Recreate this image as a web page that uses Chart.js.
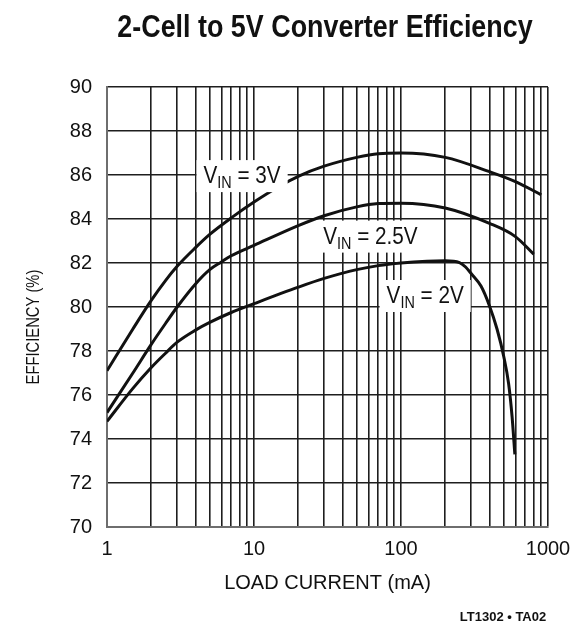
<!DOCTYPE html>
<html>
<head>
<meta charset="utf-8">
<script src="https://cdn.jsdelivr.net/npm/chart.js@4.4.1/dist/chart.umd.min.js"></script>
<style>
  html, body { margin: 0; padding: 0; background: #fff; }
  #wrap { width: 572px; height: 626px; position: relative; }
</style>
</head>
<body>
<div id="wrap"><canvas id="chart"></canvas></div>
<script>
// Efficiency curves (load current in mA, efficiency in %)
const load3V = [1, 1.5, 2, 2.5, 3, 4, 5, 7, 10, 15, 20, 30, 50, 70, 100, 200, 400, 600, 900]
const eff3V = [77.1, 79.0, 80.3, 81.2, 81.85, 82.7, 83.3, 84.05, 84.77, 85.5, 85.94, 86.4, 86.8, 86.97, 87.0, 86.8, 86.15, 85.7, 85.1]

const load2V5 = [1, 1.5, 2, 2.5, 3, 4, 5, 6, 7, 10, 20, 30, 50, 70, 100, 200, 400, 600, 800]
const eff2V5 = [75.2, 77.0, 78.3, 79.25, 80.0, 81.05, 81.7, 82.05, 82.33, 82.8, 83.7, 84.15, 84.55, 84.7, 84.72, 84.5, 83.8, 83.2, 82.4]

const load2V = [1, 1.5, 2, 2.5, 3, 4, 5, 7, 10, 20, 30, 50, 70, 100, 150, 200, 250, 275, 300, 350, 400, 450, 500, 540, 570, 595]
const eff2V = [74.8, 76.3, 77.25, 77.9, 78.4, 78.95, 79.3, 79.75, 80.15, 80.9, 81.3, 81.7, 81.88, 82.0, 82.08, 82.1, 82.02, 81.82, 81.52, 80.95, 80.05, 79.0, 77.75, 76.5, 75.0, 73.3]

const seriesNames = ['3V', '2.5V', '2V']
const xDecades = [1, 10, 100, 1000]
const xMinorSteps = [1, 2, 3, 4, 5, 6, 7, 8, 9]
const yTicks = [70, 72, 74, 76, 78, 80, 82, 84, 86, 88, 90]

const SANS = "'Liberation Sans', Arial, sans-serif"
const INK = '#111'

// where the "VIN = ..." labels sit, in data units (box centre)
const labelSpots = [
  { load: 8.3, eff: 85.95 },
  { load: 62, eff: 83.2 },
  { load: 146, eff: 80.5 }
]

const toPoints = (xs, ys) => xs.map((x, i) => ({ x: x, y: ys[i] }))

const lineStyle = {
  borderColor: INK,
  borderWidth: 3,
  pointRadius: 0,
  fill: false,
  cubicInterpolationMode: 'monotone'
}

// the original uses a condensed face, so squeeze the text horizontally
function narrowText(ctx, text, x, y, font, squeeze) {
  ctx.save()
  ctx.font = font
  ctx.translate(x, y)
  ctx.scale(squeeze, 1)
  ctx.textAlign = 'left'
  ctx.fillText(text, 0, 0)
  ctx.restore()
}

function narrowWidth(ctx, text, font, squeeze) {
  ctx.save()
  ctx.font = font
  const w = ctx.measureText(text).width * squeeze
  ctx.restore()
  return w
}

const decorations = {
  id: 'decorations',
  afterDatasetsDraw(chart) {
    const ctx = chart.ctx
    const xs = chart.scales.x
    const ys = chart.scales.y
    const big = `23px ${SANS}`
    const sub = `16px ${SANS}`
    const sq = 0.9
    ctx.save()
    ctx.textBaseline = 'alphabetic'

    labelSpots.forEach((spot, i) => {
      const cx = xs.getPixelForValue(spot.load)
      const cy = ys.getPixelForValue(spot.eff)
      const rest = ' = ' + seriesNames[i]
      const wV = narrowWidth(ctx, 'V', big, sq)
      const wSub = narrowWidth(ctx, 'IN', sub, sq)
      const wRest = narrowWidth(ctx, rest, big, sq)
      const total = wV + wSub + wRest
      const padX = 7
      ctx.fillStyle = '#fff'
      ctx.fillRect(cx - total / 2 - padX, cy - 16, total + padX * 2, 32)

      ctx.fillStyle = INK
      let x = cx - total / 2
      const base = cy + 7
      narrowText(ctx, 'V', x, base, big, sq)
      x += wV
      narrowText(ctx, 'IN', x, base + 5, sub, sq)
      x += wSub
      narrowText(ctx, rest, x, base, big, sq)
    })

    ctx.fillStyle = INK

    // chart title
    const tFont = `bold 32px ${SANS}`
    const title = '2-Cell to 5V Converter Efficiency'
    narrowText(ctx, title, 325 - narrowWidth(ctx, title, tFont, 0.84) / 2, 37, tFont, 0.84)

    // y axis title
    const yFont = `18px ${SANS}`
    const yTitle = 'EFFICIENCY (%)'
    ctx.save()
    ctx.translate(39, 327)
    ctx.rotate(-Math.PI / 2)
    narrowText(ctx, yTitle, -narrowWidth(ctx, yTitle, yFont, 0.82) / 2, 0, yFont, 0.82)
    ctx.restore()

    // figure code
    ctx.font = `bold 13px ${SANS}`
    ctx.textAlign = 'center'
    ctx.fillText('LT1302 \u2022 TA02', 503, 621)
    ctx.restore()
  }
}

new Chart(document.getElementById('chart'), {
  type: 'line',
  data: {
    datasets: [
      { label: 'VIN = 3V', data: toPoints(load3V, eff3V), ...lineStyle },
      { label: 'VIN = 2.5V', data: toPoints(load2V5, eff2V5), ...lineStyle },
      { label: 'VIN = 2V', data: toPoints(load2V, eff2V), ...lineStyle }
    ]
  },
  options: {
    responsive: true,
    maintainAspectRatio: false,
    animation: false,
    layout: { padding: { top: 87, right: 24, bottom: 29, left: 0 } },
    plugins: {
      legend: { display: false },
      tooltip: { enabled: false },
      title: { display: false }
    },
    scales: {
      x: {
        type: 'logarithmic',
        min: 1,
        max: 1000,
        afterBuildTicks: (scale) => {
          const ticks = []
          xDecades.forEach((d) => {
            if (d === 1000) { ticks.push({ value: d }); return }
            xMinorSteps.forEach((s) => ticks.push({ value: d * s }))
          })
          scale.ticks = ticks
        },
        afterFit: (scale) => {
          scale.height = 70
          // the "1000" label fits inside the layout padding already
          scale.paddingLeft = 0
          scale.paddingRight = 0
        },
        grid: { color: '#1e1e1e', lineWidth: 1.6, drawTicks: false },
        border: { color: '#6e6e6e', width: 2 },
        ticks: {
          autoSkip: false,
          maxRotation: 0,
          padding: 10,
          color: INK,
          font: { family: SANS, size: 20 },
          callback: (value) => xDecades.includes(value) ? String(value) : ''
        },
        title: {
          display: true,
          text: 'LOAD CURRENT (mA)',
          color: INK,
          font: { family: SANS, size: 20 },
          padding: { top: 0, bottom: 2 }
        }
      },
      y: {
        min: 70,
        max: 90,
        afterBuildTicks: (scale) => { scale.ticks = yTicks.map((v) => ({ value: v })) },
        afterFit: (scale) => { scale.width = 107 },
        grid: { color: '#1e1e1e', lineWidth: 1.6, drawTicks: false },
        border: { color: '#6e6e6e', width: 2 },
        ticks: {
          padding: 15,
          color: INK,
          font: { family: SANS, size: 20 }
        }
      }
    }
  },
  plugins: [decorations]
})
</script>
</body>
</html>
